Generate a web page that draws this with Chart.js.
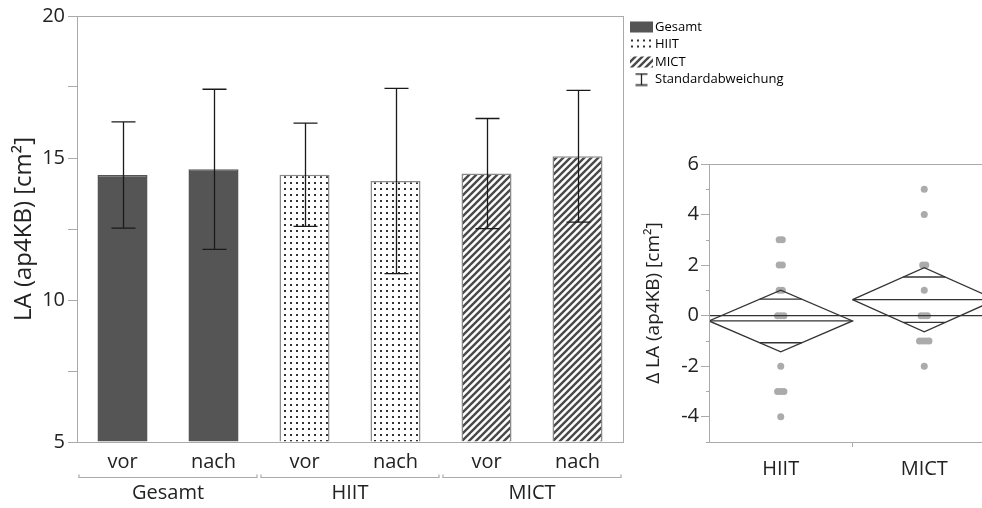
<!DOCTYPE html>
<html lang="de">
<head>
<meta charset="utf-8">
<title>LA (ap4KB) vor und nach dem Training</title>
<script src="https://cdn.jsdelivr.net/npm/chart.js@4.4.1/dist/chart.umd.min.js"></script>
<style>
  html, body { margin: 0; padding: 0; background: #fff; overflow: hidden; }
  body { width: 982px; height: 508px; position: relative; }
  #barBox { position: absolute; left: 0; top: 0; width: 820px; height: 508px; }
  #deltaBox { position: absolute; left: 630px; top: 150px; width: 370px; height: 358px; }
</style>
</head>
<body>
<div id="barBox"><canvas id="barChart"></canvas></div>
<div id="deltaBox"><canvas id="deltaChart"></canvas></div>
<script>
// left panel: group means with standard deviation
const barLabels = ["vor", "nach", "vor", "nach", "vor", "nach"];
const groupLabels = ["Gesamt", "HIIT", "MICT"];
const barMeans = [14.4, 14.6, 14.41, 14.19, 14.45, 15.06];
const barSD = [1.87, 2.82, 1.82, 3.26, 1.94, 2.32];
const legendLabels = ["Gesamt", "HIIT", "MICT", "Standardabweichung"];

// right panel: change per subject, with mean and confidence diamond
const deltaGroups = ["HIIT", "MICT"];
const hiitDelta = [3, 3, 2, 2, 1, 1, 0, 0, 0, -2, -3, -3, -3, -4];
const mictDelta = [5, 4, 2, 2, 1, 0, 0, 0, -1, -1, -1, -1, -2];
const deltaMean = [-0.21, 0.63];
const deltaCI = [1.22, 1.27];
const deltaTicks = [-4, -2, 0, 2, 4, 6];

Chart.defaults.font.family = "'Open Sans', 'Noto Sans', sans-serif";
Chart.defaults.color = "#222";
Chart.defaults.animation = false;

const AXIS = "#aaa";
const DARK = "#555";
const PLOT_RIGHT = 623; // right edge of the bar plot, legend follows it

function dotPattern() {
  const c = document.createElement("canvas");
  c.width = 6; c.height = 6;
  const g = c.getContext("2d");
  g.fillStyle = "#fff"; g.fillRect(0, 0, 6, 6);
  g.fillStyle = "#333"; g.fillRect(2, 2, 2, 2);
  return g.createPattern(c, "repeat");
}

function hatchPattern() {
  const s = 7;
  const c = document.createElement("canvas");
  c.width = s; c.height = s;
  const g = c.getContext("2d");
  g.fillStyle = "#fff"; g.fillRect(0, 0, s, s);
  g.strokeStyle = "#4a4a4a"; g.lineWidth = 2.4;
  g.beginPath();
  g.moveTo(-1, s + 1); g.lineTo(s + 1, -1);
  g.moveTo(-1, 1); g.lineTo(1, -1);
  g.moveTo(s - 1, s + 1); g.lineTo(s + 1, s - 1);
  g.stroke();
  return g.createPattern(c, "repeat");
}

const dots = dotPattern();
const hatch = hatchPattern();
const groupFills = [DARK, dots, hatch];

// legend icons, the swatch sits in the right part of the canvas
function legendIcon(fill) {
  const c = document.createElement("canvas");
  c.width = 30; c.height = 14;
  const g = c.getContext("2d");
  if (fill) {
    g.fillStyle = fill;
    g.fillRect(7, 1.5, 23, 11);
  } else {
    g.strokeStyle = "#222"; g.lineWidth = 1.3;
    g.beginPath();
    g.moveTo(18.5, 1); g.lineTo(18.5, 13);
    g.moveTo(12.5, 1.5); g.lineTo(24.5, 1.5);
    g.moveTo(12.5, 12.5); g.lineTo(24.5, 12.5);
    g.stroke();
  }
  return c;
}

const errorBars = {
  id: "errorBars",
  afterDatasetsDraw(chart) {
    const { ctx } = chart;
    const y = chart.scales.y;
    ctx.save();
    ctx.strokeStyle = "#1a1a1a";
    ctx.lineWidth = 1.3;
    chart.getDatasetMeta(0).data.forEach((bar, i) => {
      const top = y.getPixelForValue(barMeans[i] + barSD[i]);
      const bottom = y.getPixelForValue(barMeans[i] - barSD[i]);
      const x = Math.round(bar.x) + 0.5;
      ctx.beginPath();
      ctx.moveTo(x, top); ctx.lineTo(x, bottom);
      ctx.moveTo(x - 12, top); ctx.lineTo(x + 12, top);
      ctx.moveTo(x - 12, bottom); ctx.lineTo(x + 12, bottom);
      ctx.stroke();
    });
    ctx.restore();
  }
};

const frame = {
  id: "frame",
  afterDraw(chart) {
    const { ctx, chartArea: a } = chart;
    ctx.save();
    ctx.strokeStyle = AXIS;
    ctx.lineWidth = 1;
    ctx.strokeRect(Math.round(a.left) + 0.5, Math.round(a.top) + 0.5,
      Math.round(a.right - a.left), Math.round(a.bottom - a.top));
    ctx.restore();
  }
};

// brackets and names of the three groups under the bar labels
const groupAxis = {
  id: "groupAxis",
  afterDraw(chart) {
    const { ctx, chartArea } = chart;
    const x = chart.scales.x;
    const half = (x.getPixelForValue(1) - x.getPixelForValue(0)) / 2;
    const yLine = chartArea.bottom + 35.5;
    ctx.save();
    ctx.strokeStyle = AXIS;
    ctx.lineWidth = 1.2;
    ctx.fillStyle = "#222";
    ctx.font = "20px 'Open Sans', sans-serif";
    ctx.textAlign = "center";
    ctx.textBaseline = "middle";
    groupLabels.forEach((name, g) => {
      const left = x.getPixelForValue(2 * g) - half + 2;
      const right = x.getPixelForValue(2 * g + 1) + half - 2;
      ctx.beginPath();
      ctx.moveTo(left, yLine - 3); ctx.lineTo(left, yLine);
      ctx.lineTo(right, yLine); ctx.lineTo(right, yLine - 3);
      ctx.stroke();
      ctx.fillText(name, (left + right) / 2, yLine + 16);
    });
    ctx.restore();
  }
};

const barChart = new Chart(document.getElementById("barChart"), {
  type: "bar",
  data: {
    labels: barLabels,
    datasets: [{
      data: barMeans,
      base: 5,
      backgroundColor: barLabels.map((_, i) => groupFills[Math.floor(i / 2)]),
      borderColor: barLabels.map((_, i) => i < 2 ? DARK : "#8a8a8a"),
      borderWidth: 1.5,
      barPercentage: 0.55,
      categoryPercentage: 1
    }]
  },
  options: {
    responsive: true,
    maintainAspectRatio: false,
    layout: { padding: { top: 16, right: 0, left: 0, bottom: 0 } },
    plugins: {
      tooltip: { enabled: false },
      legend: {
        position: "right",
        align: "start",
        onClick: null,
        labels: {
          usePointStyle: true,
          pointStyleWidth: 21,
          padding: 4.5,
          color: "#333",
          font: { size: 13 },
          generateLabels: () => legendLabels.map((text, i) => ({
            text,
            pointStyle: legendIcon(groupFills[i]),
            fillStyle: "transparent",
            strokeStyle: "transparent",
            lineWidth: 0,
            hidden: false,
            datasetIndex: 0
          }))
        }
      }
    },
    scales: {
      x: {
        grid: { display: false, drawTicks: false },
        border: { color: AXIS },
        ticks: { font: { size: 20 }, padding: 8, color: "#222" },
        afterFit: s => { s.height = 66; }
      },
      y: {
        min: 5,
        max: 20,
        grid: { drawOnChartArea: false, tickLength: 9, color: AXIS },
        border: { color: AXIS },
        ticks: {
          stepSize: 2.5,
          padding: 3,
          font: { size: 20 },
          color: "#222",
          callback: v => v % 5 === 0 ? v : ""
        },
        title: {
          display: true,
          text: "LA (ap4KB) [cm²]",
          font: { size: 24 },
          color: "#222",
          padding: { top: 10, bottom: 0 }
        },
        afterFit: s => { s.width = 77; }
      }
    }
  },
  plugins: [errorBars, frame, groupAxis]
});

// push the legend in so the plot ends at PLOT_RIGHT
barChart.options.layout.padding.right = barChart.width - PLOT_RIGHT - barChart.legend.width;
barChart.update();

// spread repeated values sideways so that equal points stay visible
function jitter(values, center) {
  const seen = {};
  const count = {};
  values.forEach(v => { count[v] = (count[v] || 0) + 1; });
  return values.map(v => {
    const k = seen[v] = (seen[v] || 0) + 1;
    return { x: center + (k - 1 - (count[v] - 1) / 2) * 0.022, y: v };
  });
}

function diamond(i) {
  const m = deltaMean[i], c = deltaCI[i];
  return [
    { x: i - 0.5, y: m }, { x: i, y: m + c },
    { x: i + 0.5, y: m }, { x: i, y: m - c }, { x: i - 0.5, y: m }
  ];
}

function meanLine(i) {
  return [{ x: i - 0.5, y: deltaMean[i] }, { x: i + 0.5, y: deltaMean[i] }];
}

// overlap marks at mean +/- CI/sqrt(2), as wide as the diamond at that height
function overlapMarks(i) {
  const m = deltaMean[i], d = deltaCI[i] / Math.SQRT2;
  const w = 0.5 * (1 - 1 / Math.SQRT2);
  return [
    { x: i - w, y: m + d }, { x: i + w, y: m + d }, { x: i, y: null },
    { x: i - w, y: m - d }, { x: i + w, y: m - d }
  ];
}

const lineStyle = {
  showLine: true,
  pointRadius: 0,
  borderColor: "#333",
  borderWidth: 1.3,
  spanGaps: false,
  order: 1
};

const minorTicks = {
  id: "minorTicks",
  afterDraw(chart) {
    const { ctx, chartArea } = chart;
    const y = chart.scales.y;
    ctx.save();
    ctx.strokeStyle = AXIS;
    ctx.lineWidth = 1;
    for (let v = -5; v <= 5; v += 2) {
      const py = Math.round(y.getPixelForValue(v)) + 0.5;
      ctx.beginPath();
      ctx.moveTo(chartArea.left - 3, py);
      ctx.lineTo(chartArea.left, py);
      ctx.stroke();
    }
    ctx.restore();
  }
};

new Chart(document.getElementById("deltaChart"), {
  type: "scatter",
  data: {
    datasets: [
      {
        data: [...jitter(hiitDelta, 0), ...jitter(mictDelta, 1)],
        pointRadius: 3.5,
        pointBackgroundColor: "#ababab",
        pointBorderWidth: 0,
        order: 2
      },
      { ...lineStyle, data: [{ x: -0.5, y: 0 }, { x: 1.5, y: 0 }] },
      ...deltaGroups.flatMap((_, i) => [
        { ...lineStyle, data: diamond(i) },
        { ...lineStyle, data: meanLine(i) },
        { ...lineStyle, data: overlapMarks(i) }
      ])
    ]
  },
  options: {
    responsive: true,
    maintainAspectRatio: false,
    layout: { padding: { top: 13, right: 2, left: 0, bottom: 0 } },
    plugins: { legend: { display: false }, tooltip: { enabled: false } },
    scales: {
      x: {
        type: "linear",
        min: -0.5,
        max: 1.5,
        afterBuildTicks: s => { s.ticks = [0, 0.5, 1].map(value => ({ value })); },
        grid: {
          drawOnChartArea: false,
          tickLength: 5,
          tickColor: c => c.tick && c.tick.value === 0.5 ? AXIS : "transparent"
        },
        border: { color: AXIS },
        ticks: {
          font: { size: 20 },
          padding: 10,
          color: "#222",
          callback: v => v === 0 ? deltaGroups[0] : v === 1 ? deltaGroups[1] : ""
        },
        afterFit: s => { s.height = 66; }
      },
      y: {
        min: -5,
        max: 6,
        afterBuildTicks: s => { s.ticks = deltaTicks.map(value => ({ value })); },
        grid: { drawOnChartArea: false, tickLength: 8, color: AXIS },
        border: { color: AXIS },
        ticks: { font: { size: 20 }, padding: 2, color: "#222" },
        title: {
          display: true,
          text: "Δ LA (ap4KB) [cm²]",
          font: { size: 19 },
          color: "#222",
          padding: { top: 12, bottom: 0 }
        },
        afterFit: s => { s.width = 79; }
      }
    }
  },
  plugins: [frame, minorTicks]
});
</script>
</body>
</html>
